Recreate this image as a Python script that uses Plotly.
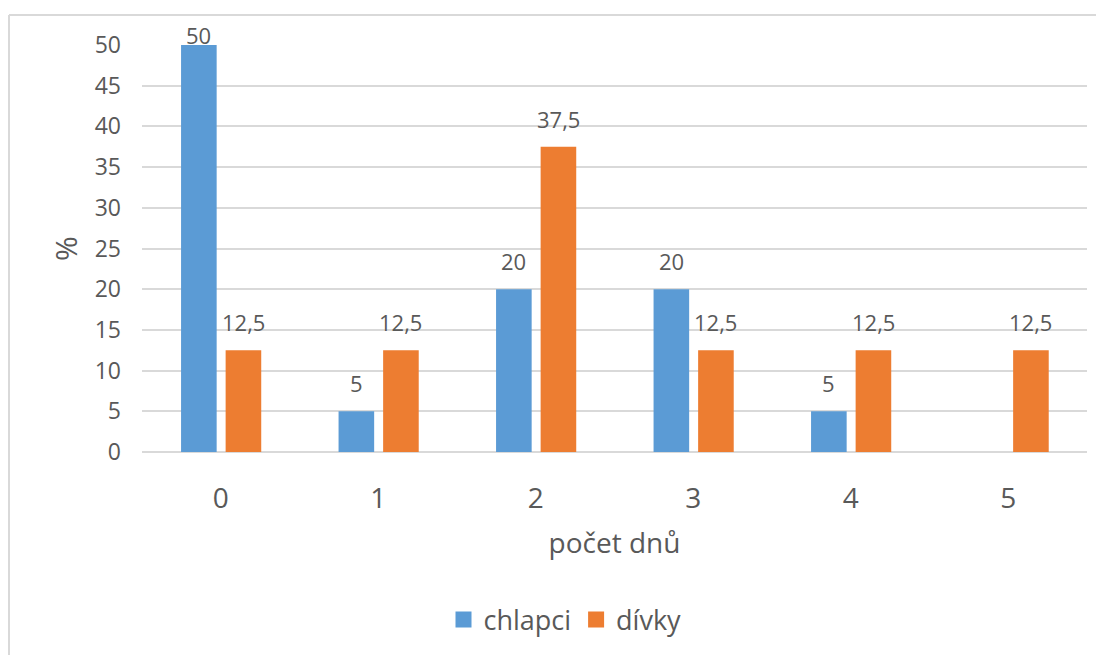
import plotly.graph_objects as go

# ---- data ----
categories = [0, 1, 2, 3, 4, 5]
chlapci = [50, 5, 20, 20, 5, None]
divky = [12.5, 12.5, 37.5, 12.5, 12.5, 12.5]
series_names = ["chlapci", "dívky"]
y_ticks = [0, 5, 10, 15, 20, 25, 30, 35, 40, 45, 50]

# ---- style ----
BLUE = "#5B9BD5"
ORANGE = "#ED7D31"
TEXT = "#595959"
GRID = "#D9D9D9"
FONT = "Open Sans"

W, H = 1104, 655
PAGE = 8  # default body margin of the html page
# plot area on screen: x 142..1087, y 45..452
ML = 142 - PAGE
MT = 45 - PAGE
MR = W - (1087 - PAGE)
MB = H - (452 - PAGE)
Y_MAX = 50

BAR_W = 0.226
OFFSETS = [-0.252, 0.031]


def fmt(v):
    if v is None:
        return ""
    if float(v).is_integer():
        return str(int(v))
    return str(v).replace(".", ",")


fig = go.Figure()
for name, vals, color, off in zip(series_names, [chlapci, divky], [BLUE, ORANGE], OFFSETS):
    fig.add_trace(go.Bar(
        x=categories, y=vals, name=name,
        marker=dict(color=color, line=dict(width=0)),
        width=BAR_W, offset=off,
        hoverinfo="skip", showlegend=False,
    ))
    # legend entry with a larger square swatch
    fig.add_trace(go.Scatter(
        x=[None], y=[None], mode="markers", name=name,
        marker=dict(symbol="square", size=17, color=color),
        showlegend=True,
    ))
    for c, v in zip(categories, vals):
        if v is None:
            continue
        fig.add_annotation(
            x=c + off + BAR_W / 2, y=v, xref="x", yref="y",
            text=fmt(v), showarrow=False, yanchor="bottom",
            yshift=(11 if v < Y_MAX - 2 else -7),
            font=dict(family=FONT, size=22, color=TEXT),
        )

plot_w = W - ML - MR
plot_h = H - MT - MB
# chart border (top and left visible, the rest is cropped)
bx = (9 - PAGE - ML) / plot_w
by = 1 + (MT - (15 - PAGE)) / plot_h
fig.add_shape(type="line", xref="paper", yref="paper", x0=bx, x1=bx + (W + 20) / plot_w,
              y0=by, y1=by, line=dict(color=GRID, width=2), layer="below")
fig.add_shape(type="line", xref="paper", yref="paper", x0=bx, x1=bx,
              y0=by, y1=by - (H + 20) / plot_h, line=dict(color=GRID, width=2), layer="below")

fig.update_layout(
    width=W, height=H,
    margin=dict(l=ML, r=MR, t=MT, b=MB, pad=0),
    paper_bgcolor="white", plot_bgcolor="white",
    barmode="group",
    font=dict(family=FONT, color=TEXT),
    showlegend=True,
    legend=dict(
        orientation="h", xref="container", yref="container",
        x=(565 - PAGE) / W, xanchor="center", y=1 - (620 - PAGE) / H, yanchor="middle",
        font=dict(family=FONT, size=27, color=TEXT),
        itemwidth=30, traceorder="normal", itemsizing="trace",
    ),
    xaxis=dict(
        range=[-0.5, 5.5], tickvals=categories, ticktext=[str(c) for c in categories],
        showgrid=False, zeroline=False, showline=False, ticks="",
        tickfont=dict(family=FONT, size=28, color=TEXT),
        ticklabelstandoff=27,
        title=dict(text="počet dnů", font=dict(family=FONT, size=28, color=TEXT), standoff=18),
    ),
    yaxis=dict(
        range=[0, Y_MAX], tickvals=y_ticks,
        showgrid=True, gridcolor=GRID, gridwidth=1.5,
        zeroline=True, zerolinecolor=GRID, zerolinewidth=1.5,
        showline=False, ticks="",
        tickfont=dict(family=FONT, size=23, color=TEXT),
        ticklabelstandoff=20,
        title=dict(text="%", font=dict(family=FONT, size=30, color=TEXT), standoff=8),
    ),
)

fig.write_html("out.html")
